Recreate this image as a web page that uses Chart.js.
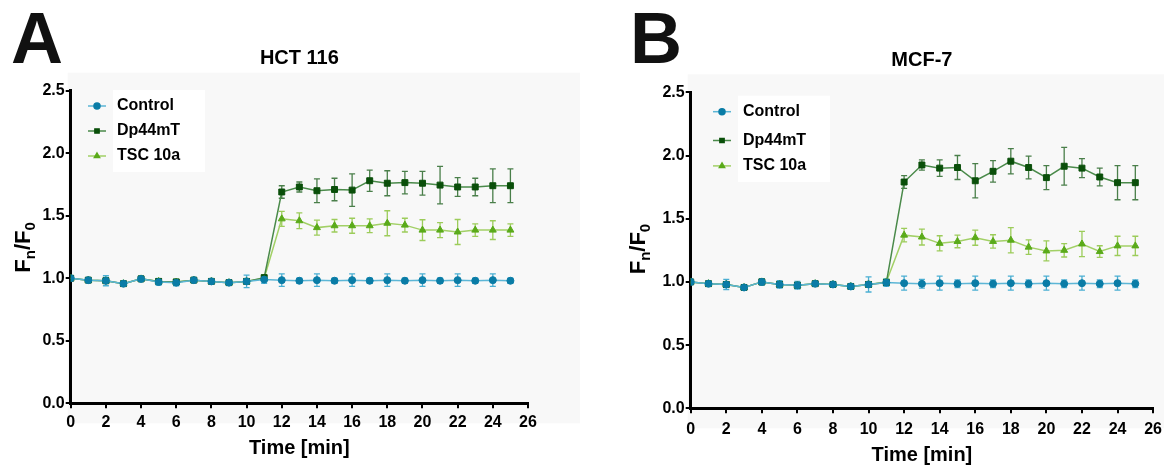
<!DOCTYPE html>
<html>
<head>
<meta charset="utf-8">
<script src="https://cdn.jsdelivr.net/npm/chart.js@4.4.1/dist/chart.umd.min.js"></script>
<style>
  body { margin: 0; background: #fff; width: 1164px; height: 467px; position: relative; overflow: hidden; }
  canvas { position: absolute; top: 0; }
  .panel-letter { position: absolute; top: 2px; font: bold 72px/1 "Liberation Sans", Arial, sans-serif; color: #111; }
</style>
</head>
<body>
<canvas id="hct" width="580" height="467" style="left:0"></canvas>
<canvas id="mcf" width="569" height="467" style="left:600px"></canvas>
<div class="panel-letter" style="left:11px">A</div>
<div class="panel-letter" style="left:630px">B</div>
<script>
const minutes = [0, 1, 2, 3, 4, 5, 6, 7, 8, 9, 10, 11, 12, 13, 14, 15, 16, 17, 18, 19, 20, 21, 22, 23, 24, 25];
const seriesNames = ['Control', 'Dp44mT', 'TSC 10a'];
const xTicks = [0, 2, 4, 6, 8, 10, 12, 14, 16, 18, 20, 22, 24, 26];
const yTicks = [0.0, 0.5, 1.0, 1.5, 2.0, 2.5];

// HCT 116 (panel A)
const hctControl = [1.00, 0.985, 0.98, 0.957, 0.995, 0.97, 0.965, 0.985, 0.975, 0.965, 0.975, 0.99, 0.985, 0.98, 0.985, 0.98, 0.985, 0.98, 0.985, 0.98, 0.985, 0.98, 0.985, 0.98, 0.985, 0.98];
const hctControlErr = [0, 0.01, 0.04, 0.01, 0.02, 0.025, 0.025, 0.01, 0.01, 0.01, 0.05, 0.03, 0.05, 0.02, 0.05, 0.02, 0.05, 0.02, 0.05, 0.02, 0.05, 0.02, 0.05, 0.02, 0.05, 0.02];
const hctDp = [1.00, 0.985, 0.98, 0.957, 0.995, 0.975, 0.97, 0.985, 0.975, 0.965, 0.975, 1.005, 1.69, 1.73, 1.70, 1.71, 1.705, 1.78, 1.76, 1.765, 1.76, 1.745, 1.73, 1.73, 1.74, 1.74];
const hctDpErr = [0, 0.01, 0.02, 0.01, 0.02, 0.02, 0.02, 0.01, 0.01, 0.01, 0.02, 0.02, 0.05, 0.04, 0.095, 0.09, 0.13, 0.085, 0.10, 0.09, 0.095, 0.15, 0.075, 0.07, 0.135, 0.135];
const hctTsc = [1.00, 0.985, 0.98, 0.957, 0.995, 0.975, 0.97, 0.985, 0.975, 0.965, 0.975, 1.00, 1.475, 1.46, 1.405, 1.42, 1.42, 1.42, 1.44, 1.425, 1.385, 1.385, 1.37, 1.385, 1.385, 1.385];
const hctTscErr = [0, 0.01, 0.02, 0.01, 0.02, 0.02, 0.02, 0.01, 0.01, 0.01, 0.02, 0.02, 0.06, 0.063, 0.06, 0.05, 0.06, 0.055, 0.10, 0.055, 0.083, 0.06, 0.10, 0.05, 0.075, 0.05];

// MCF-7 (panel B)
const mcfControl = [1.00, 0.986, 0.98, 0.956, 1.00, 0.98, 0.973, 0.986, 0.98, 0.964, 0.98, 0.995, 0.99, 0.985, 0.99, 0.985, 0.99, 0.985, 0.99, 0.985, 0.99, 0.985, 0.99, 0.985, 0.99, 0.985];
const mcfControlErr = [0, 0.01, 0.04, 0.01, 0.025, 0.03, 0.03, 0.01, 0.01, 0.01, 0.06, 0.03, 0.055, 0.035, 0.055, 0.03, 0.055, 0.03, 0.055, 0.03, 0.055, 0.03, 0.055, 0.03, 0.055, 0.03];
const mcfDp = [1.00, 0.986, 0.98, 0.956, 1.00, 0.98, 0.973, 0.986, 0.98, 0.964, 0.98, 0.995, 1.79, 1.925, 1.90, 1.905, 1.80, 1.875, 1.955, 1.905, 1.825, 1.915, 1.90, 1.83, 1.785, 1.785];
const mcfDpErr = [0, 0.01, 0.02, 0.01, 0.02, 0.02, 0.02, 0.01, 0.01, 0.01, 0.02, 0.02, 0.05, 0.04, 0.065, 0.095, 0.135, 0.085, 0.10, 0.09, 0.095, 0.15, 0.075, 0.07, 0.135, 0.135];
const mcfTsc = [1.00, 0.986, 0.98, 0.956, 1.00, 0.98, 0.973, 0.986, 0.98, 0.964, 0.98, 1.00, 1.37, 1.355, 1.305, 1.32, 1.35, 1.32, 1.33, 1.275, 1.245, 1.25, 1.30, 1.24, 1.285, 1.285];
const mcfTscErr = [0, 0.01, 0.02, 0.01, 0.02, 0.02, 0.02, 0.01, 0.01, 0.01, 0.02, 0.02, 0.053, 0.063, 0.06, 0.05, 0.06, 0.053, 0.10, 0.057, 0.079, 0.053, 0.10, 0.046, 0.076, 0.076];

const FONT = "'Liberation Sans', Arial, sans-serif";
Chart.defaults.font.family = FONT;
Chart.defaults.color = '#000';

const styles = [
  { line: '#5cb6d6', point: '#0a7ca6', err: '#4aaed2', shape: 'circle', radius: 3.5 },
  { line: '#4a8a4a', point: '#0a4f0a', err: '#4a7f4a', shape: 'rect', radius: 4.2 },
  { line: '#a2d066', point: '#5aaa1a', err: '#9ccc5a', shape: 'triangle', radius: 4 }
];

const toPoints = vals => minutes.map((m, i) => ({ x: m, y: vals[i] }));

// light grey plot background
const backdrop = {
  id: 'backdrop',
  beforeDraw(chart, args, opts) {
    const { ctx, chartArea } = chart;
    ctx.save();
    ctx.fillStyle = '#f8f8f8';
    ctx.fillRect(chartArea.left - 3, chartArea.top - 18, opts.right - chartArea.left + 3, chartArea.bottom - chartArea.top + 38);
    ctx.restore();
  }
};

const errorBars = {
  id: 'errorBars',
  beforeDatasetsDraw(chart) {
    const { ctx, scales: { x, y } } = chart;
    ctx.save();
    ctx.lineWidth = 1.3;
    chart.data.datasets.forEach(ds => {
      ctx.strokeStyle = ds.errorColor;
      ds.data.forEach((p, j) => {
        const e = ds.errors[j];
        if (!e) return;
        const px = x.getPixelForValue(p.x);
        const top = y.getPixelForValue(p.y + e);
        const bot = y.getPixelForValue(p.y - e);
        ctx.beginPath();
        ctx.moveTo(px, top); ctx.lineTo(px, bot);
        ctx.moveTo(px - 3, top); ctx.lineTo(px + 3, top);
        ctx.moveTo(px - 3, bot); ctx.lineTo(px + 3, bot);
        ctx.stroke();
      });
    });
    ctx.restore();
  }
};

const sideLegend = {
  id: 'sideLegend',
  afterDraw(chart, args, opts) {
    const { ctx, chartArea } = chart;
    const mx = chartArea.left + opts.dx;
    ctx.save();
    ctx.fillStyle = '#fff';
    ctx.fillRect(mx + 16, chartArea.top + opts.rows[0] - 16, 92, opts.rows[2] - opts.rows[0] + 32);
    chart.data.datasets.forEach((ds, i) => {
      const my = chartArea.top + opts.rows[i];
      ctx.strokeStyle = ds.borderColor;
      ctx.lineWidth = 1.5;
      ctx.beginPath(); ctx.moveTo(mx - 9, my); ctx.lineTo(mx + 9, my); ctx.stroke();
      ctx.fillStyle = ds.pointBackgroundColor;
      ctx.strokeStyle = ds.pointBackgroundColor;
      Chart.helpers.drawPoint(ctx, { pointStyle: ds.pointStyle, radius: 3, borderWidth: 1 }, mx, my);
      ctx.fillStyle = '#000';
      ctx.font = 'bold 16px ' + FONT;
      ctx.textBaseline = 'middle';
      ctx.fillText(ds.label, mx + opts.textGap, my);
    });
    ctx.restore();
  }
};

// y title with real subscripts: F_n / F_0
const yTitle = {
  id: 'yTitle',
  afterDraw(chart, args, opts) {
    const { ctx, chartArea } = chart;
    ctx.save();
    ctx.translate(chartArea.left - opts.dx, chartArea.top + opts.start);
    ctx.rotate(-Math.PI / 2);
    ctx.fillStyle = '#000';
    ctx.textBaseline = 'alphabetic';
    const big = 'bold 22px ' + FONT, small = 'bold 15px ' + FONT;
    let x = 0;
    [['F', big, 0], ['n', small, 5], ['/', big, 0], ['F', big, 0], ['0', small, 5]].forEach(([t, f, dy]) => {
      ctx.font = f;
      ctx.fillText(t, x, dy);
      x += ctx.measureText(t).width;
    });
    ctx.restore();
  }
};

function makeChart(id, title, control, controlErr, dp, dpErr, tsc, tscErr, lay) {
  const values = [control, dp, tsc];
  const errs = [controlErr, dpErr, tscErr];
  return new Chart(document.getElementById(id), {
    type: 'line',
    data: {
      datasets: seriesNames.map((name, i) => ({
        label: name,
        data: toPoints(values[i]),
        errors: errs[i],
        errorColor: styles[i].err,
        borderColor: styles[i].line,
        borderWidth: 1.5,
        pointStyle: styles[i].shape,
        pointRadius: styles[i].radius,
        pointBackgroundColor: styles[i].point,
        pointBorderColor: styles[i].point,
        pointBorderWidth: 1,
        tension: 0
      }))
    },
    options: {
      responsive: false,
      animation: false,
      devicePixelRatio: 1,
      layout: { padding: { left: 0, right: lay.padRight, top: 0, bottom: 0 } },
      plugins: {
        legend: { display: false },
        tooltip: { enabled: false },
        title: {
          display: true, text: title, fullSize: false, color: '#000',
          font: { size: 20, weight: 'bold' },
          padding: { top: lay.titleTop, bottom: lay.titleBottom }
        },
        backdrop: { right: lay.greyRight },
        sideLegend: { dx: lay.legendDx, rows: lay.legendRows, textGap: lay.textGap },
        yTitle: { dx: lay.yTitleDx, start: 182 }
      },
      scales: {
        x: {
          type: 'linear', min: 0, max: 26,
          afterBuildTicks: s => { s.ticks = xTicks.map(v => ({ value: v })); },
          ticks: { color: '#000', font: { size: 16, weight: 'bold' }, padding: lay.xTickPad, maxRotation: 0, autoSkip: false },
          grid: { drawOnChartArea: false, color: '#000', lineWidth: 2, tickLength: 5 },
          border: { color: '#000', width: 3 },
          title: { display: true, text: 'Time [min]', color: '#000', font: { size: 20, weight: 'bold' }, padding: { top: 0, bottom: lay.xTitleBottom } },
          afterFit: s => { s.height = lay.xHeight; }
        },
        y: {
          min: 0, max: 2.5,
          afterBuildTicks: s => { s.ticks = yTicks.map(v => ({ value: v })); },
          ticks: { color: '#000', font: { size: 16, weight: 'bold' }, padding: 1, callback: v => v.toFixed(1) },
          grid: { drawOnChartArea: false, color: '#000', lineWidth: 2, tickLength: 5 },
          border: { color: '#000', width: 3 },
          afterFit: s => { s.width = lay.yWidth; }
        }
      }
    },
    plugins: [backdrop, errorBars, sideLegend, yTitle]
  });
}

makeChart('hct', 'HCT 116', hctControl, hctControlErr, hctDp, hctDpErr, hctTsc, hctTscErr, {
  padRight: 52, titleTop: 46, titleBottom: 20.7, xHeight: 63.7, xTitleBottom: 7, yWidth: 70.7, xTickPad: 5,
  greyRight: 585, legendDx: 26.3, legendRows: [15.3, 40.3, 65.3], textGap: 20, yTitleDx: 41
});
makeChart('mcf', 'MCF-7', mcfControl, mcfControlErr, mcfDp, mcfDpErr, mcfTsc, mcfTscErr, {
  padRight: 10.7, titleTop: 48.7, titleBottom: 19.6, xHeight: 58.7, xTitleBottom: 0, yWidth: 90.7, xTickPad: 7,
  greyRight: 569, legendDx: 31.3, legendRows: [19.4, 48.2, 73.6], textGap: 21, yTitleDx: 45.5
});
</script>
</body>
</html>
